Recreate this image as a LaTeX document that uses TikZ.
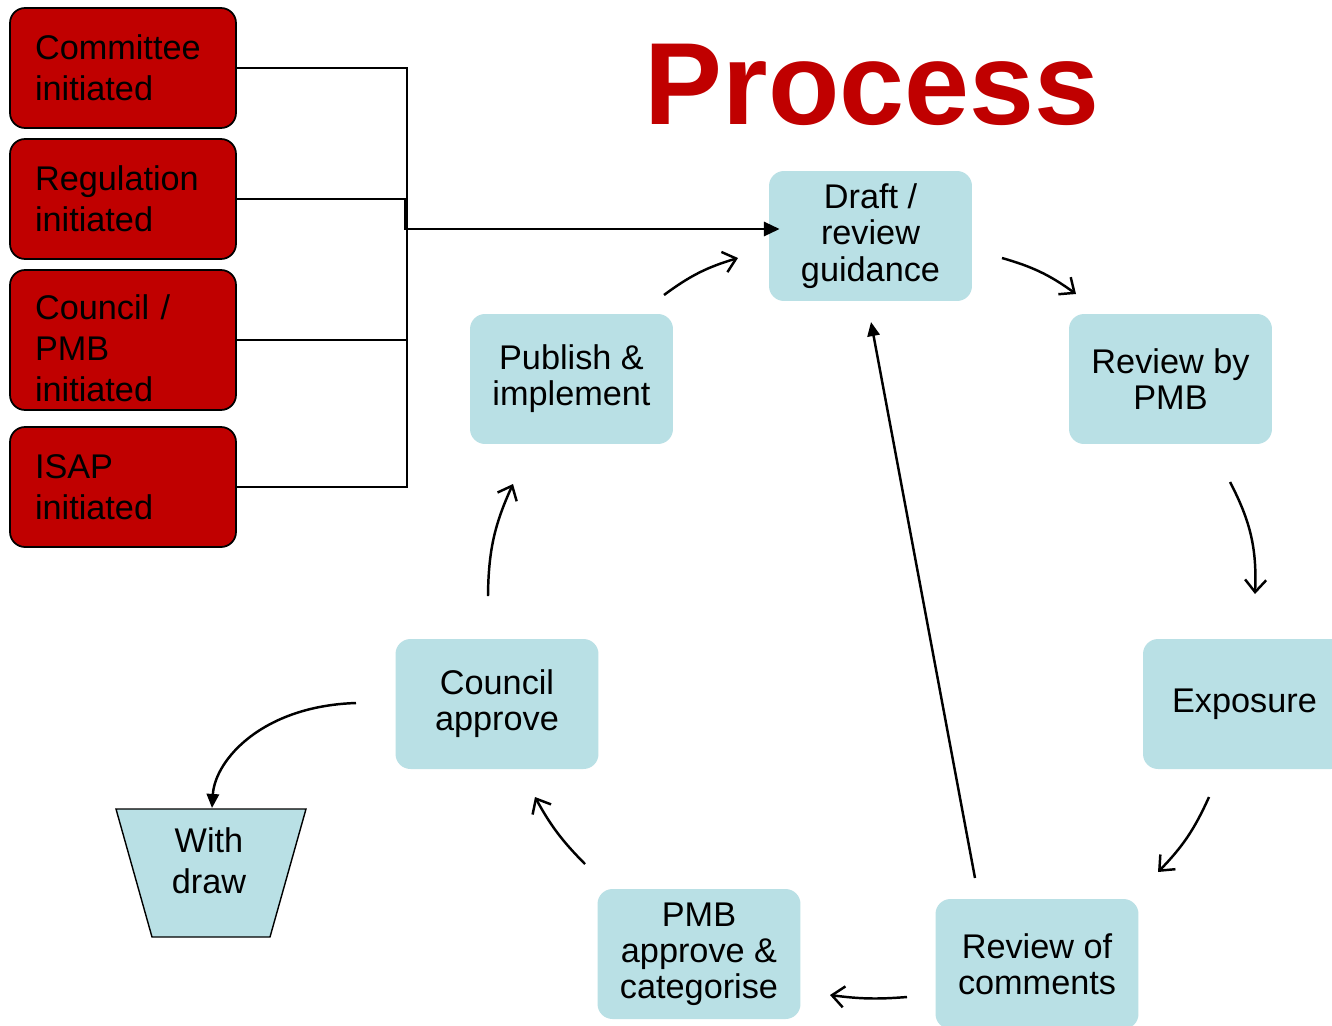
\documentclass[tikz,border=0pt]{standalone}
\usepackage{fontspec}
\setmainfont{Liberation Sans}
\usetikzlibrary{arrows.meta,calc}
\definecolor{tealbox}{RGB}{185,224,229}
\definecolor{redbox}{RGB}{192,0,0}
\begin{document}
\begin{tikzpicture}[x=0.02cm,y=-0.02cm,
 redstart/.style={draw=black, line width=1pt, fill=redbox, rounded corners=0.3cm, minimum width=4.52cm, text width=3.52cm, inner xsep=0.5cm, inner ysep=0pt, align=left, font=\fontsize{19.5}{23.2}\selectfont},
 stage/.style={fill=tealbox, rounded corners=0.3cm, minimum width=4.06cm, minimum height=2.6cm, inner sep=0pt, align=center, font=\fontsize{19.5}{20.6}\selectfont},
 flow/.style={line width=1.4pt, -{Straight Barb[length=7pt,width=12pt]}},
 solidflow/.style={line width=1.4pt, -{Triangle[length=8pt,width=7pt]}},
 link/.style={line width=1.1pt},
]
\clip (0,0) rectangle (1332,1025);
\fill[white] (0,0) rectangle (1332,1025);

% title
\node[anchor=base, text=redbox, font=\fontsize{66.5}{70}\selectfont\bfseries, inner sep=0pt] (title) at (872,124) {Process};

% red starting boxes
\node[redstart, minimum height=2.4cm] (com) at (123,68) {Committee\\initiated};
\node[redstart, minimum height=2.4cm] (reg) at (123,199) {Regulation\\initiated};
\node[redstart, minimum height=2.8cm] (cou) at (123,340) {};
\node[redstart, draw=none, fill=none, minimum height=0pt] (coutext) at (123,348) {Council /\\PMB\\initiated};
\node[redstart, minimum height=2.4cm] (isap) at (123,487) {ISAP\\initiated};

% stages
\node[stage] (draft) at (870.5,236) {Draft /\\review\\guidance};
\node[stage] (rpmb) at (1170.5,379) {Review by\\PMB};
\node[stage] (expo) at (1244.5,704) {Exposure};
\node[stage] (rcom) at (1037,964) {Review of\\comments};
\node[stage] (pmba) at (699,954) {PMB\\approve \&\\categorise};
\node[stage] (capp) at (497,704) {Council\\approve};
\node[stage] (pub) at (571.5,379) {Publish \&\\implement};

% withdraw trapezoid
\draw[fill=tealbox, line width=0.8pt] (116,809) -- (306,809) -- (270,937) -- (152,937) -- cycle;
\node[font=\fontsize{19.5}{23.2}\selectfont, align=center, inner sep=0pt] (wd) at (209,861) {With\\draw};
\coordinate (wdtop) at (212,808);

% bracket connectors
\coordinate (bx) at (407,68);
\coordinate (jx) at (405,229);
\draw[link] (com.east) -- (com.east -| bx) -- (isap.east -| bx) -- (isap.east);
\draw[link] (cou.east) -- (cou.east -| bx);
\draw[link] (reg.east) -- (reg.east -| bx);
\draw[line width=1.7pt, -{Triangle[length=9pt,width=8pt]}] (reg.east -| jx) -- (jx) -- ($(jx -| draft.west)+(11,0)$);

% cycle arrows
\coordinate (a1s) at (664,295); \coordinate (a1e) at (738,258);
\coordinate (a2s) at (1002,258); \coordinate (a2e) at (1076,294);
\coordinate (a3s) at (1230,482); \coordinate (a3e) at (1255,594);
\coordinate (a4s) at (1209,797); \coordinate (a4e) at (1158,872);
\coordinate (a5s) at (907,997); \coordinate (a5e) at (830,995);
\coordinate (a6s) at (585,864); \coordinate (a6e) at (535,797);
\coordinate (a7s) at (488,596); \coordinate (a7e) at (513,484);
\coordinate (a8s) at (356,703);
\coordinate (a9s) at (975,878); \coordinate (a9e) at (871,322);

\draw[flow] (a1s) to[bend left=10] (a1e);
\draw[flow] (a2s) to[bend left=10] (a2e);
\draw[flow] (a3s) to[bend left=15] (a3e);
\draw[flow] (a4s) to[bend left=10] (a4e);
\draw[flow] (a5s) to[bend left=6] (a5e);
\draw[flow] (a6s) to[bend left=8] (a6e);
\draw[flow] (a7s) to[bend left=12] (a7e);
\draw[solidflow] (a8s) .. controls (262,706) and (215,760) .. (wdtop);
\draw[solidflow] (a9s) -- (a9e);
\end{tikzpicture}
\end{document}
